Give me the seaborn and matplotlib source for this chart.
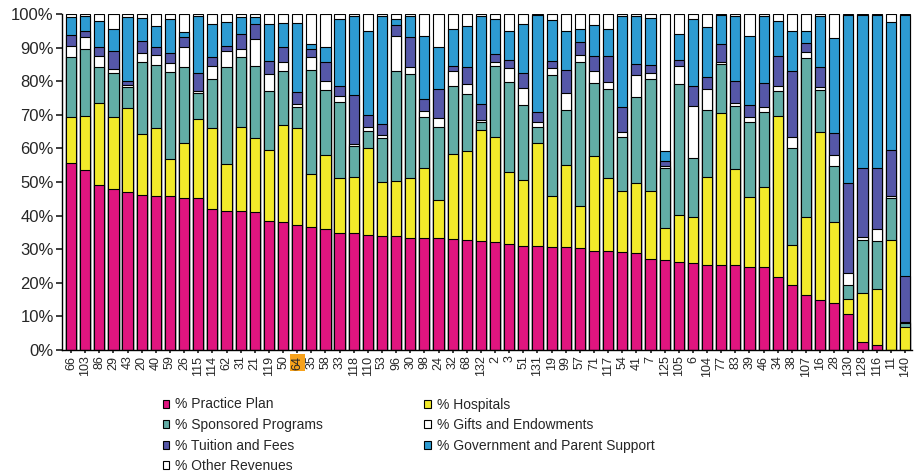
import numpy as np
import pandas as pd
import seaborn as sns
import matplotlib.pyplot as plt
from matplotlib.patches import Patch

# institution codes, in the order shown on the x axis
institutions = ["66", "103", "86", "29", "43", "20", "40", "59", "26", "115",
                "114", "62", "31", "21", "119", "50", "64", "35", "58", "33",
                "118", "110", "53", "96", "30", "98", "24", "32", "68", "132",
                "2", "3", "51", "131", "19", "99", "57", "71", "117", "54",
                "41", "7", "125", "105", "6", "104", "77", "83", "39", "46",
                "34", "38", "107", "16", "28", "130", "128", "116", "11", "140"]

# revenue shares (%) per institution
practice_plan = [55.6, 53.7, 49.2, 47.9, 47.1, 46.2, 45.9, 45.9, 45.3, 45.3,
                 42.0, 41.5, 41.5, 41.2, 38.5, 38.2, 37.2, 36.5, 36.0, 34.8,
                 34.7, 34.3, 34.0, 34.0, 33.3, 33.3, 33.3, 32.9, 32.7, 32.5,
                 32.2, 31.5, 30.9, 31.1, 30.6, 30.6, 30.3, 29.6, 29.6, 29.3,
                 28.9, 27.1, 26.8, 26.1, 25.9, 25.4, 25.4, 25.4, 24.6, 24.6,
                 21.6, 19.3, 16.5, 14.9, 14.0, 10.7, 2.5, 1.5, 0.0, 0.0]
hospitals = [13.6, 16.0, 24.3, 21.3, 24.9, 18.1, 20.1, 10.9, 16.4, 23.5,
             24.0, 13.9, 24.8, 21.9, 21.1, 28.9, 28.8, 15.9, 22.0, 16.4,
             16.7, 25.8, 16.1, 16.4, 17.9, 20.8, 11.3, 25.4, 26.6, 33.1,
             31.1, 21.6, 19.7, 30.4, 15.3, 24.5, 12.5, 28.2, 21.5, 17.9,
             20.7, 20.1, 9.5, 14.1, 13.6, 26.0, 45.0, 28.5, 20.8, 23.8,
             48.1, 12.0, 23.0, 50.1, 24.0, 4.5, 14.4, 16.7, 32.7, 6.9]
sponsored = [17.9, 19.9, 10.6, 13.1, 6.4, 21.3, 18.9, 25.8, 22.6, 7.6,
             14.6, 28.7, 21.0, 21.5, 17.4, 15.8, 6.2, 31.0, 19.5, 22.7,
             9.2, 5.2, 13.0, 32.5, 30.9, 15.1, 21.7, 20.2, 16.9, 2.2,
             21.3, 26.8, 22.4, 5.0, 36.0, 16.4, 43.0, 21.7, 26.6, 16.3,
             25.6, 33.5, 17.9, 39.0, 17.6, 20.1, 14.7, 18.6, 22.4, 22.5,
             7.3, 28.7, 47.4, 12.4, 16.9, 4.1, 15.8, 14.1, 12.5, 1.0]
gifts = [3.5, 3.5, 3.5, 1.3, 0.6, 2.7, 2.9, 2.7, 5.8, 0.8,
         4.0, 5.0, 2.3, 8.0, 5.1, 2.7, 1.0, 3.9, 2.7, 1.8,
         0.7, 1.0, 0.9, 10.7, 2.0, 1.8, 2.7, 4.6, 3.0, 0.7,
         1.0, 3.9, 5.0, 1.3, 1.9, 5.0, 2.0, 3.4, 2.2, 1.3,
         6.7, 1.6, 0.5, 5.4, 15.6, 6.2, 0.7, 0.9, 1.6, 1.5,
         1.5, 3.5, 1.9, 1.0, 3.2, 3.5, 1.0, 3.7, 0.5, 0.3]
tuition = [3.2, 1.7, 2.7, 5.5, 1.2, 3.8, 2.5, 3.0, 3.2, 5.1,
           2.7, 1.5, 4.4, 4.4, 4.0, 4.5, 3.5, 2.3, 5.4, 2.8,
           14.6, 3.6, 3.3, 3.2, 9.0, 3.7, 8.7, 1.5, 5.1, 4.7,
           2.5, 2.5, 4.3, 2.9, 2.3, 6.9, 3.8, 4.7, 7.7, 7.4,
           3.2, 2.6, 1.5, 1.7, 6.0, 3.5, 5.3, 6.8, 3.6, 7.0,
           9.1, 19.6, 2.5, 5.9, 6.4, 26.9, 20.5, 18.2, 13.9, 13.9]
government = [5.2, 4.7, 7.5, 6.4, 19.0, 6.7, 6.2, 10.2, 1.2, 17.2,
              9.7, 6.9, 5.0, 2.2, 10.9, 7.1, 20.5, 1.5, 4.5, 20.0,
              23.6, 25.1, 32.2, 1.7, 6.4, 18.8, 12.6, 10.9, 12.2, 26.3,
              10.4, 8.5, 14.7, 29.1, 12.1, 11.4, 3.9, 9.2, 7.9, 27.3,
              14.4, 13.9, 3.1, 7.7, 19.8, 15.0, 8.7, 19.3, 20.5, 20.1,
              10.2, 11.7, 3.5, 15.2, 28.4, 50.1, 45.6, 45.6, 37.9, 77.7]
other = [1.0, 0.5, 2.2, 4.5, 0.8, 1.2, 3.5, 1.5, 5.5, 0.5,
         3.0, 2.5, 1.0, 0.8, 3.0, 2.8, 2.8, 8.9, 9.9, 1.5,
         0.5, 5.0, 0.5, 1.5, 0.5, 6.5, 9.7, 4.5, 3.5, 0.5,
         1.5, 5.2, 3.0, 0.2, 1.8, 5.2, 4.5, 3.2, 4.5, 0.5,
         0.5, 1.2, 40.7, 6.0, 1.5, 3.8, 0.2, 0.5, 6.5, 0.5,
         2.2, 5.2, 5.2, 0.5, 7.1, 0.2, 0.2, 0.2, 2.5, 0.2]

series_names = ["% Practice Plan", "% Hospitals", "% Sponsored Programs",
                "% Gifts and Endowments", "% Tuition and Fees",
                "% Government and Parent Support", "% Other Revenues"]
series_colors = ["#E0157F", "#F2EA2A", "#62ADA6", "#FFFFFF",
                 "#5557A8", "#2D9BD2", "#FFFFFF"]

sns.set_theme(style="white")
plt.rcParams["font.family"] = ["Liberation Sans", "DejaVu Sans"]

fig = plt.figure(figsize=(9.19, 4.76), dpi=100)
ax = fig.add_axes([62 / 919, 1 - 350 / 476, 850 / 919, 336 / 476])

layers = [practice_plan, hospitals, sponsored, gifts, tuition, government, other]
stacked = np.cumsum(np.array(layers), axis=0)

# draw the tallest stack first, then overlay each lower cumulative level
for i in range(len(layers) - 1, -1, -1):
    df = pd.DataFrame({"inst": institutions, "pct": stacked[i]})
    sns.barplot(data=df, x="inst", y="pct", order=institutions,
                color=series_colors[i], saturation=1, errorbar=None,
                edgecolor="black", linewidth=0.8, width=0.72, ax=ax)

ax.set_xlim(-0.64, 59.5)
ax.set_ylim(0, 100)
ax.set_yticks(range(0, 101, 10))
ax.set_yticklabels([f"{v}%" for v in range(0, 101, 10)], fontsize=12)
ax.set_xlabel("")
ax.set_ylabel("")
ax.tick_params(axis="x", labelrotation=90, labelsize=9, bottom=True,
               length=2, pad=2)
ax.tick_params(axis="y", left=True, length=4, pad=2)

for side in ["top", "right"]:
    ax.spines[side].set_visible(False)
for side in ["left", "bottom"]:
    ax.spines[side].set_color("black")
    ax.spines[side].set_linewidth(1.0)

for lbl in ax.get_xticklabels():
    if lbl.get_text() == "64":
        lbl.set_bbox(dict(facecolor="#F7A21B", edgecolor="none", pad=1))

# legend filled row by row like the original (ncol fills columns first)
order = [0, 2, 4, 6, 1, 3, 5]
handles = [Patch(facecolor=series_colors[k], edgecolor="black", linewidth=0.8)
           for k in order]
labels = [series_names[k] for k in order]
fig.legend(handles, labels, ncol=2, loc="upper left",
           bbox_to_anchor=(150 / 919, 1 - 385 / 476), frameon=False,
           fontsize=10, handlelength=0.5, handleheight=0.5,
           handletextpad=0.4, labelspacing=0.47, columnspacing=7.3)

fig.savefig("out.png", dpi=100, facecolor="white")
